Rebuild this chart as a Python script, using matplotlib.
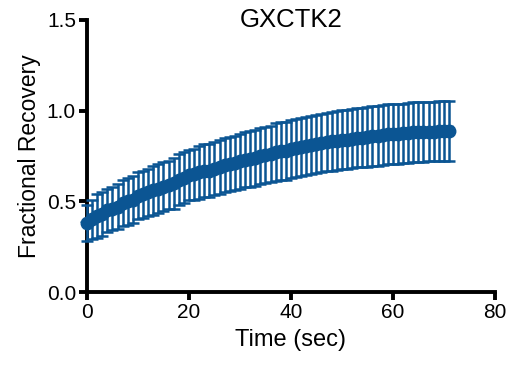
import numpy as np
import matplotlib
matplotlib.use("Agg")
import matplotlib.pyplot as plt

plt.rcParams['font.family'] = ['Liberation Sans', 'DejaVu Sans']

# FRAP recovery, mean +/- SD, one point per second
time_sec = list(range(0, 72))
recovery = [0.38, 0.40, 0.42, 0.43, 0.45, 0.46, 0.47, 0.49, 0.50, 0.51,
            0.53, 0.54, 0.55, 0.56, 0.57, 0.58, 0.59, 0.60, 0.62, 0.63,
            0.645, 0.65, 0.66, 0.67, 0.67, 0.68, 0.69, 0.70, 0.705, 0.71,
            0.72, 0.73, 0.735, 0.74, 0.75, 0.755, 0.76, 0.77, 0.775, 0.78,
            0.79, 0.795, 0.80, 0.805, 0.81, 0.815, 0.82, 0.825, 0.83, 0.835,
            0.84, 0.84, 0.845, 0.85, 0.85, 0.855, 0.86, 0.86, 0.865, 0.87,
            0.87, 0.87, 0.875, 0.875, 0.88, 0.88, 0.88, 0.885, 0.885, 0.89,
            0.89, 0.89]
sd = [0.10, 0.11, 0.12, 0.12, 0.12, 0.12, 0.125, 0.125, 0.13, 0.13,
      0.13, 0.13, 0.13, 0.135, 0.135, 0.135, 0.135, 0.14, 0.14, 0.14,
      0.14, 0.14, 0.145, 0.145, 0.145, 0.145, 0.15, 0.15, 0.15, 0.15,
      0.15, 0.15, 0.155, 0.155, 0.155, 0.155, 0.155, 0.16, 0.16, 0.16,
      0.16, 0.16, 0.16, 0.16, 0.16, 0.16, 0.16, 0.16, 0.162, 0.162,
      0.162, 0.162, 0.162, 0.163, 0.163, 0.163, 0.163, 0.163, 0.164, 0.164,
      0.164, 0.164, 0.164, 0.165, 0.165, 0.165, 0.165, 0.165, 0.165, 0.165,
      0.165, 0.165]

x_ticks = [0, 20, 40, 60, 80]
y_ticks = [0.0, 0.5, 1.0, 1.5]

blue = '#0b5593'

fig = plt.figure(figsize=(5.16, 3.68), dpi=100)
ax = fig.add_axes([0.1686, 0.2065, 0.7903, 0.7392])

ax.errorbar(time_sec, recovery, yerr=sd, color=blue, ecolor=blue,
            elinewidth=1.8, capsize=4, capthick=1.8,
            linewidth=7, marker='o', markersize=9, zorder=3, clip_on=False)

ax.set_xlim(0, 80)
ax.set_ylim(0, 1.5)
ax.set_xticks(x_ticks)
ax.set_yticks(y_ticks)
ax.set_yticklabels(['%.1f' % v for v in y_ticks])

for side in ['top', 'right']:
    ax.spines[side].set_visible(False)
for side in ['left', 'bottom']:
    ax.spines[side].set_linewidth(2.8)

ax.tick_params(axis='both', direction='out', length=6, width=2.8,
               labelsize=15, pad=2)

ax.set_xlabel('Time (sec)', fontsize=17, labelpad=5)
ax.set_ylabel('Fractional Recovery', fontsize=16.5, labelpad=4)
ax.text(0.5, 1.0, 'GXCTK2', transform=ax.transAxes, ha='center',
        va='center', fontsize=18.5)

fig.savefig('out.png', dpi=100)
